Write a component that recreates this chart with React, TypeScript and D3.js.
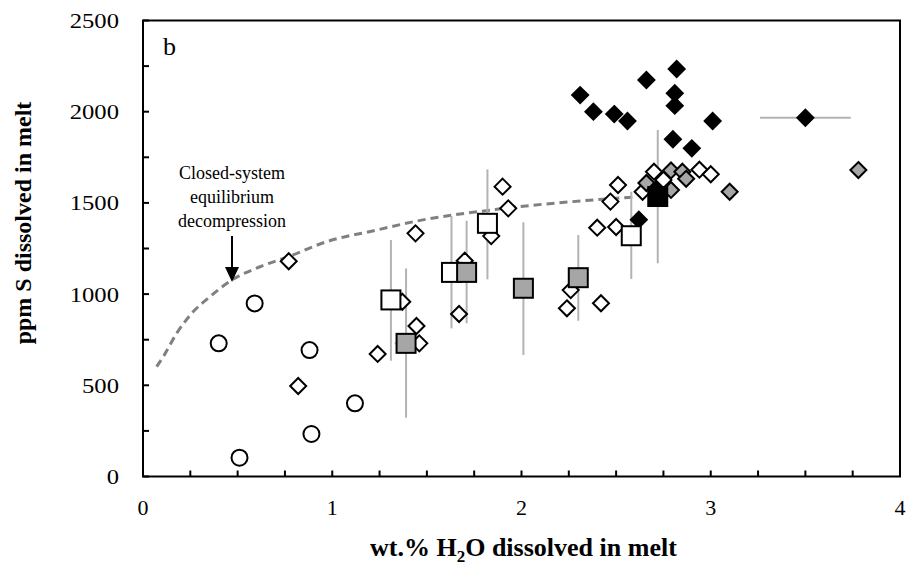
import React from "react";
import * as d3 from "d3";

// ---- data ----
const circles: [number, number][] = [
  [0.40, 730], [0.51, 103], [0.59, 949], [0.88, 693], [0.89, 233], [1.12, 401],
];
const whiteDiamonds: [number, number][] = [
  [0.77, 1180], [0.82, 496], [1.24, 672], [1.37, 958], [1.445, 825], [1.46, 730],
  [1.44, 1333], [1.67, 891], [1.70, 1183], [1.84, 1318], [1.90, 1589], [1.93, 1470],
  [2.24, 922], [2.26, 1022], [2.42, 950], [2.40, 1364], [2.50, 1368], [2.47, 1507],
  [2.51, 1598], [2.64, 1561], [2.70, 1671], [2.75, 1626], [2.94, 1682], [3.00, 1657],
];
const grayDiamonds: [number, number][] = [
  [2.66, 1609], [2.79, 1678], [2.85, 1671], [2.87, 1632], [2.79, 1571], [3.10, 1561], [3.78, 1680],
];
const blackDiamonds: [number, number][] = [
  [2.31, 2091], [2.38, 2000], [2.49, 1987], [2.56, 1949], [2.66, 2174], [2.82, 2234],
  [2.81, 2101], [2.81, 2033], [3.01, 1949], [2.80, 1849], [2.90, 1799], [3.50, 1967], [2.62, 1408],
  [2.71, 1575],
];
// horizontal error bars: [x, y, xlow, xhigh]
const xErrors: [number, number, number, number][] = [
  [3.50, 1967, 3.26, 3.74],
  [1.39, 730, 1.33, 1.45],
  [1.71, 1119, 1.66, 1.755],
  [2.58, 1320, 2.53, 2.63],
];
// squares: [x, y, ylow, yhigh]
const whiteSquares: [number, number, number, number][] = [
  [1.31, 968, 635, 1297], [1.63, 1119, 812, 1428], [1.82, 1388, 1081, 1684], [2.58, 1320, 1083, 1561],
];
const graySquares: [number, number, number, number][] = [
  [1.39, 730, 322, 1141], [1.71, 1119, 840, 1402], [2.01, 1032, 666, 1394], [2.30, 1090, 854, 1324],
];
const blackSquares: [number, number, number, number][] = [[2.72, 1535, 1169, 1900]];
const curve: [number, number][] = [
  [0.072, 602], [0.107, 657], [0.178, 785], [0.266, 904], [0.354, 986], [0.469, 1077],
  [0.618, 1150], [0.768, 1205], [0.97, 1287], [1.235, 1351], [1.43, 1397], [1.87, 1465],
  [2.43, 1520], [2.60, 1532],
];
const xTickLabels = [0, 1, 2, 3, 4];
const yTickLabels = [0, 500, 1000, 1500, 2000, 2500];

const FONT = "'Liberation Serif', 'Times New Roman', serif";
const W = 910, H = 569;
const L = 143, R = 900, T = 20.5, B = 476.5;

export default function App() {
  const x = d3.scaleLinear().domain([0, 4]).range([L, R]);
  const y = d3.scaleLinear().domain([0, 2500]).range([B, T]);
  const xMinor = d3.range(0, 4.001, 0.25);
  const yMinor = d3.range(0, 2500.1, 250);
  const line = d3.line<[number, number]>().x(d => x(d[0])).y(d => y(d[1])).curve(d3.curveMonotoneX);
  const dh = 8; // diamond half diagonal
  const sq = 19;
  const diamond = (d: [number, number], fill: string, k: string) => (
    <path key={k} d={`M${x(d[0])},${y(d[1]) - dh}L${x(d[0]) + dh},${y(d[1])}L${x(d[0])},${y(d[1]) + dh}L${x(d[0]) - dh},${y(d[1])}Z`}
      fill={fill} stroke="#000" strokeWidth={2} strokeLinejoin="miter" />
  );
  const square = (d: [number, number, number, number], fill: string, k: string) => (
    <rect key={k} x={x(d[0]) - sq / 2} y={y(d[1]) - sq / 2} width={sq} height={sq} fill={fill} stroke="#000" strokeWidth={2} />
  );
  const allSquares = [...whiteSquares, ...graySquares, ...blackSquares];
  return (
    <div style={{ position: "fixed", left: 0, top: 0, width: W, height: H, background: "#fff" }}>
      <svg width={W} height={H} style={{ display: "block" }} fontFamily={FONT}>
        <rect width={W} height={H} fill="#fff" />
        {/* frame */}
        <rect x={L} y={T} width={R - L} height={B - T} fill="none" stroke="#000" strokeWidth={2} />
        {xMinor.map((v, i) => (
          <line key={"xt" + i} x1={x(v)} x2={x(v)} y1={B} y2={B - 6} stroke="#000" strokeWidth={2} />
        ))}
        {yMinor.map((v, i) => (
          <line key={"yt" + i} x1={L} x2={L + 6} y1={y(v)} y2={y(v)} stroke="#000" strokeWidth={2} />
        ))}
        {xTickLabels.map(v => (
          <text key={"xl" + v} x={x(v)} y={515} fontSize={22} textAnchor="middle">{v}</text>
        ))}
        {yTickLabels.map(v => (
          <text key={"yl" + v} x={119} y={y(v) + 7.5} fontSize={22} textAnchor="end"
            transform={`translate(119,0) scale(1.12,1) translate(-119,0)`}>{v}</text>
        ))}
        <text x={370} y={556} fontSize={26} fontWeight="bold" textAnchor="start">
          wt.% H<tspan dy={6} fontSize={17}>2</tspan><tspan dy={-6}>O dissolved in melt</tspan>
        </text>
        <text transform={`translate(31,223) rotate(-90)`} fontSize={24} fontWeight="bold" textAnchor="middle">
          ppm S dissolved in melt
        </text>
        <text x={163} y={55} fontSize={26}>b</text>
        {/* equilibrium curve */}
        <path d={line(curve) || ""} fill="none" stroke="#808080" strokeWidth={3} strokeDasharray="8,5" />
        {/* annotation */}
        <text x={232} y={179} fontSize={18} textAnchor="middle">Closed-system</text>
        <text x={232} y={203} fontSize={18} textAnchor="middle">equilibrium</text>
        <text x={232} y={227} fontSize={18} textAnchor="middle">decompression</text>
        <line x1={232} x2={232} y1={236} y2={268} stroke="#000" strokeWidth={2} />
        <path d={`M${232 - 7},${267}L${232 + 7},${267}L232,${282}Z`} fill="#000" />
        {/* error bars */}
        {allSquares.map((d, i) => (
          <line key={"ye" + i} x1={x(d[0])} x2={x(d[0])} y1={y(d[2])} y2={y(d[3])} stroke="#b3b3b3" strokeWidth={2} />
        ))}
        {xErrors.map((d, i) => (
          <line key={"xe" + i} x1={x(d[2])} x2={x(d[3])} y1={y(d[1])} y2={y(d[1])} stroke="#b3b3b3" strokeWidth={2} />
        ))}
        {circles.map((d, i) => (
          <circle key={"c" + i} cx={x(d[0])} cy={y(d[1])} r={8} fill="#fff" stroke="#000" strokeWidth={2} />
        ))}
        {whiteDiamonds.map((d, i) => diamond(d, "#fff", "wd" + i))}
        {grayDiamonds.map((d, i) => diamond(d, "#a6a6a6", "gd" + i))}
        {blackDiamonds.map((d, i) => diamond(d, "#000", "bd" + i))}
        {whiteSquares.map((d, i) => square(d, "#fff", "ws" + i))}
        {graySquares.map((d, i) => square(d, "#a6a6a6", "gs" + i))}
        {blackSquares.map((d, i) => square(d, "#000", "bs" + i))}
      </svg>
    </div>
  );
}
